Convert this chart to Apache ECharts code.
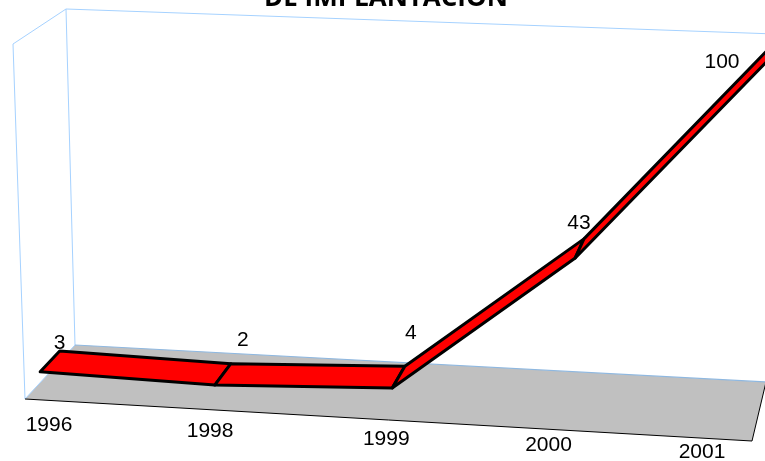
<!DOCTYPE html>
<html><head><meta charset="utf-8">
<style>html,body{margin:0;padding:0;background:#fff}#c{width:765px;height:461px}</style>
<script src="https://cdn.jsdelivr.net/npm/echarts@6/dist/echarts.min.js"></script>
</head><body><div id="c"></div>
<script>
var categories = ['1996','1998','1999','2000','2001'];
var values = [3, 2, 4, 43, 100];
var titleLine = 'DE IMPLANTACION';

// 3D box as it appears on screen; everything below is projected through it
var W = 765, H = 461;
var FLOOR = {fl:[25,399], fr:[752,441], bl:[75,345], br:[766,382]};
var CEIL  = {fl:[13,44],  fr:[765,72],  bl:[66,9],   br:[775,34]};
var PERSP = 0.035, RIB_BACK = 0.3, RIB_FRONT = 0.69;
var TICK_NUDGE = [[24,26],[8,22],[4,19.5],[-17,15],[-50,11]];
var VALUE_NUDGE = [[0,-8],[12,-23],[6,-33],[-5,-16],[-50,17]];

function lerp(a,b,t){return [a[0]+(b[0]-a[0])*t, a[1]+(b[1]-a[1])*t];}
// u,v in 0..1 from the axis scales, w: 0 = back wall, 1 = front
function project(u,v,w){
  var p = u/(1+PERSP*(1-u));
  var f = lerp(lerp(FLOOR.bl,FLOOR.br,p), lerp(FLOOR.fl,FLOOR.fr,p), w);
  var c = lerp(lerp(CEIL.bl,CEIL.br,p), lerp(CEIL.fl,CEIL.fr,p), w);
  return lerp(f,c,v);
}
function uv(api,i,val){var c=api.coord([i,val]);return [c[0]/W, 1-c[1]/H];}
function at(api,i,val,w){var t=uv(api,i,val);return project(t[0],t[1],w);}

var BLUE='#a6d2ff';
var FONT='21px "Liberation Sans", Arial, sans-serif';
function renderBox(params,api){
  var n=categories.length-1;
  var fl=at(api,0,0,1),fr=at(api,n,0,1),bl=at(api,0,0,0),br=at(api,n,0,0);
  var tfl=at(api,0,100,1),tbl=at(api,0,100,0),tbr=at(api,n,100,0);
  var line=function(a,b,c,w){return {type:'line',shape:{x1:a[0],y1:a[1],x2:b[0],y2:b[1]},style:{stroke:c,lineWidth:w}};};
  return {type:'group',children:[
    {type:'polygon',shape:{points:[fl,fr,br,bl]},style:{fill:'#c0c0c0',stroke:null}},
    line(fl,tfl,BLUE,1),line(tfl,tbl,BLUE,1),line(tbl,bl,BLUE,1),line(tbl,tbr,BLUE,1),
    line(bl,br,'#8fb8e0',1.2),line(fl,bl,BLUE,1),
    line(fl,fr,'#000',1),line(fr,br,'#000',1)
  ]};
}
function renderRibbon(params,api){
  var i=api.value(0),v=api.value(1);
  if(i>=values.length-1) return {type:'group',children:[]};
  var nx=values[i+1];
  var pts=[at(api,i,v,RIB_BACK),at(api,i+1,nx,RIB_BACK),at(api,i+1,nx,RIB_FRONT),at(api,i,v,RIB_FRONT)];
  return {type:'polygon',shape:{points:pts},style:{fill:'#ff0000',stroke:'#000',lineWidth:3,lineJoin:'round'}};
}
function renderValueLabel(params,api){
  var i=api.value(0),v=api.value(1),p=at(api,i,v,RIB_BACK),d=VALUE_NUDGE[i];
  return {type:'text',style:{text:String(v),x:p[0]+d[0],y:p[1]+d[1],align:'center',verticalAlign:'middle',fill:'#000',font:FONT}};
}
function renderTick(params,api){
  var i=api.value(0),p=at(api,i,0,1),d=TICK_NUDGE[i];
  return {type:'text',style:{text:categories[i],x:p[0]+d[0],y:p[1]+d[1],align:'center',verticalAlign:'middle',fill:'#000',font:FONT}};
}
var rows=values.map(function(v,i){return [i,v];});
var chart=echarts.init(document.getElementById('c'),null,{renderer:'canvas'});
chart.setOption({
  animation:false,
  backgroundColor:'#fff',
  title:{text:titleLine,left:259,top:-19,textStyle:{fontFamily:'"Open Sans",sans-serif',fontWeight:'bold',fontSize:26,color:'#000'}},
  grid:{left:0,right:0,top:0,bottom:0},
  xAxis:{type:'category',data:categories,boundaryGap:false,show:false},
  yAxis:{type:'value',min:0,max:100,show:false},
  series:[
    {type:'custom',coordinateSystem:'cartesian2d',data:[[0,0]],renderItem:renderBox,clip:false,silent:true,z:1},
    {type:'custom',coordinateSystem:'cartesian2d',data:rows,renderItem:renderRibbon,clip:false,silent:true,z:2},
    {type:'custom',coordinateSystem:'cartesian2d',data:rows,renderItem:renderValueLabel,clip:false,silent:true,z:3},
    {type:'custom',coordinateSystem:'cartesian2d',data:rows,renderItem:renderTick,clip:false,silent:true,z:3}
  ]
});
</script></body></html>
